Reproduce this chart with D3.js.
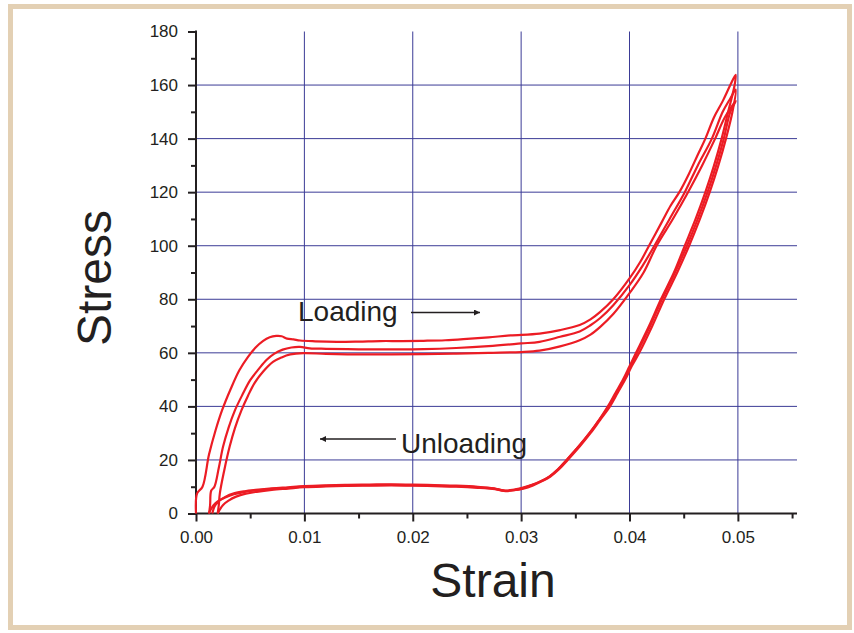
<!DOCTYPE html>
<html>
<head>
<meta charset="utf-8">
<script src="https://cdn.jsdelivr.net/npm/d3@7"></script>
<style>
  html, body { margin: 0; padding: 0; background: #fff; }
  svg { display: block; }
  text { font-family: "Liberation Sans", Arial, Helvetica, sans-serif; fill: #231f20; }
</style>
</head>
<body>
<svg id="chart" width="854" height="633"></svg>
<script>
// ---------------- DATA ----------------
const xTicks = [0, 0.01, 0.02, 0.03, 0.04, 0.05];
const xTickLabels = ["0.00", "0.01", "0.02", "0.03", "0.04", "0.05"];
const yTicks = [0, 20, 40, 60, 80, 100, 120, 140, 160, 180];
const yTickLabels = ["0", "20", "40", "60", "80", "100", "120", "140", "160", "180"];
const xTitle = "Strain";
const yTitle = "Stress";

// Cycle 1
const load1Strain = [0, 0.0001, 0.0006, 0.0012, 0.0018, 0.0024, 0.0032, 0.004, 0.0048, 0.0055, 0.0062, 0.0068, 0.0074, 0.0079, 0.0084, 0.009, 0.0096, 0.011, 0.013, 0.015, 0.017, 0.019, 0.021, 0.023, 0.025, 0.027, 0.029, 0.0317, 0.0336, 0.0354, 0.0364, 0.0373, 0.0385, 0.04, 0.041, 0.0418, 0.043, 0.0438, 0.0446, 0.0455, 0.0463, 0.047, 0.0478, 0.0486, 0.0493, 0.0498];
const load1Stress = [0, 7.5, 10, 22, 31, 38.5, 46.5, 53.5, 58.5, 62, 64.5, 65.8, 66.3, 66.2, 65.3, 65, 64.6, 64.3, 64.1, 64.2, 64.4, 64.4, 64.5, 64.7, 65.2, 65.8, 66.5, 67.2, 68.5, 70.4, 72.5, 75.3, 80, 87.8, 94, 100, 109, 115, 120, 127, 134, 140, 148, 154, 160, 163.8];
const unload1Strain = [0.0498, 0.0497, 0.0491, 0.0485, 0.0478, 0.047, 0.0461, 0.0451, 0.0441, 0.0429, 0.0418, 0.0406, 0.04, 0.0394, 0.0387, 0.038, 0.0372, 0.0363, 0.0353, 0.0342, 0.0334, 0.0326, 0.0318, 0.031, 0.0301, 0.0292, 0.0284, 0.0275, 0.026, 0.024, 0.022, 0.02, 0.018, 0.016, 0.014, 0.012, 0.01, 0.0085, 0.007, 0.0055, 0.0045, 0.0035, 0.0027, 0.002, 0.0016, 0.0013, 0.0012];
const unload1Stress = [163.8, 160, 150, 140, 130, 120, 110, 100, 90, 80, 70, 60, 55, 50, 45, 40, 35, 30, 25, 20, 16.5, 13.8, 12, 10.6, 9.4, 8.6, 8.4, 9.3, 9.8, 10.2, 10.4, 10.6, 10.7, 10.6, 10.5, 10.3, 10, 9.6, 9.2, 8.6, 8.1, 7.2, 6, 4.5, 3, 1, 0];

// Cycle 2
const load2Strain = [0.0012, 0.0013, 0.0014, 0.0017, 0.0021, 0.0025, 0.003, 0.0036, 0.0043, 0.005, 0.0058, 0.0065, 0.0072, 0.008, 0.0088, 0.0096, 0.0105, 0.012, 0.015, 0.018, 0.021, 0.024, 0.027, 0.03, 0.0317, 0.0336, 0.0354, 0.0364, 0.0373, 0.0385, 0.04, 0.0412, 0.0423, 0.0437, 0.0451, 0.0463, 0.0476, 0.0486, 0.0493, 0.0498];
const load2Stress = [0, 3, 8.5, 10, 17, 25, 32, 38.6, 44.5, 49.8, 54, 57.3, 59.6, 61.2, 62, 62.2, 61.7, 61.5, 61.3, 61.3, 61.4, 61.8, 62.5, 63.5, 64.1, 66, 68, 70.3, 73, 77.8, 85.3, 92.5, 100, 110, 120, 130, 140, 150, 155, 158.3];
const unload2Strain = [0.0498, 0.0495, 0.0489, 0.0482, 0.0474, 0.0465, 0.0455, 0.0444, 0.0432, 0.0421, 0.0409, 0.0402, 0.0396, 0.0389, 0.0382, 0.0373, 0.0364, 0.0354, 0.0343, 0.0335, 0.0327, 0.0319, 0.0311, 0.0302, 0.0293, 0.0285, 0.0276, 0.026, 0.024, 0.022, 0.02, 0.018, 0.016, 0.014, 0.012, 0.01, 0.0085, 0.007, 0.0056, 0.0046, 0.0037, 0.003, 0.0025, 0.0022, 0.002];
const unload2Stress = [158.3, 150, 140, 130, 120, 110, 100, 90, 80, 70, 60, 55, 50, 45, 40, 35, 30, 25, 20, 16.5, 13.8, 12, 10.5, 9.3, 8.7, 8.5, 9.1, 9.6, 10, 10.2, 10.4, 10.5, 10.4, 10.3, 10.1, 9.8, 9.3, 8.8, 8.1, 7.4, 6.3, 4.8, 3.2, 1.5, 0];

// Cycle 3
const load3Strain = [0.002, 0.0021, 0.0022, 0.0026, 0.0031, 0.0036, 0.0042, 0.0048, 0.0054, 0.0062, 0.0071, 0.0079, 0.0087, 0.0099, 0.012, 0.015, 0.018, 0.021, 0.024, 0.027, 0.03, 0.0317, 0.0336, 0.0354, 0.0364, 0.0373, 0.0385, 0.04, 0.0413, 0.0425, 0.044, 0.0454, 0.0467, 0.0479, 0.0488, 0.0498];
const load3Stress = [0, 3, 7.5, 16, 24.9, 32, 38.6, 44, 48.7, 53, 56.6, 58.3, 59.4, 59.9, 59.6, 59.4, 59.4, 59.5, 59.7, 60, 60.3, 60.8, 62.4, 64.7, 66.8, 69.7, 74.5, 82.3, 90, 100, 110, 120, 130, 140, 148, 154];
const unload3Strain = [0.0498, 0.0493, 0.0487, 0.048, 0.0472, 0.0463, 0.0453, 0.0442, 0.043, 0.0419, 0.0407, 0.0401, 0.0395, 0.0388, 0.0381, 0.0372, 0.0363, 0.0353, 0.0342, 0.0334, 0.0326, 0.0318, 0.031, 0.0301, 0.0292, 0.0284, 0.0275, 0.026, 0.024, 0.022, 0.02, 0.018, 0.016, 0.014, 0.012, 0.01, 0.0085, 0.007, 0.0055, 0.0045, 0.0035, 0.0027, 0.0021, 0.0017, 0.0015];
const unload3Stress = [154, 150, 140, 130, 120, 110, 100, 90, 80, 70, 60, 55, 50, 45, 40, 35, 30, 25, 20, 16.5, 13.8, 12, 10.7, 9.6, 8.8, 8.6, 9.4, 10, 10.4, 10.6, 10.8, 10.9, 10.8, 10.7, 10.5, 10.2, 9.8, 9.4, 8.8, 8.3, 7.5, 6.2, 4.6, 2.5, 0];

const annotations = ["Loading", "Unloading"];

// ---------------- CHART ----------------
const svg = d3.select("#chart");

// frame
svg.append("rect")
  .attr("x", 10.5).attr("y", 6.5)
  .attr("width", 839).attr("height", 621)
  .attr("fill", "#fff")
  .attr("stroke", "#e3d0b4")
  .attr("stroke-width", 5);

const x = d3.scaleLinear().domain([0, 0.0555]).range([196, 797.5]);
const y = d3.scaleLinear().domain([0, 180]).range([513.5, 31.5]);
const x0 = x(0), y0 = y(0);
const xEnd = 797;

const gridColor = "#3b3b96";

// grid
const g = svg.append("g");
g.selectAll("line.vgrid").data(xTicks.filter(d => d > 0)).enter()
  .append("line")
  .attr("x1", d => x(d)).attr("x2", d => x(d))
  .attr("y1", y(180)).attr("y2", y0)
  .attr("stroke", gridColor).attr("stroke-width", 1);
g.selectAll("line.hgrid").data(yTicks.filter(d => d > 0 && d < 180)).enter()
  .append("line")
  .attr("x1", x0).attr("x2", xEnd)
  .attr("y1", d => y(d)).attr("y2", d => y(d))
  .attr("stroke", gridColor).attr("stroke-width", 1);

// axes via d3 axis generators
const xAxis = d3.axisBottom(x).tickValues(xTicks).tickFormat((d, i) => xTickLabels[i]).tickSize(8).tickPadding(9);
const xMinor = d3.axisBottom(x).tickValues(xTicks.map(d => d + 0.005)).tickFormat("").tickSize(5);
const yAxis = d3.axisLeft(y).tickValues(yTicks).tickFormat((d, i) => yTickLabels[i]).tickSize(8).tickPadding(10);
const yMinor = d3.axisLeft(y).tickValues(yTicks.slice(0, -1).map(d => d + 10)).tickFormat("").tickSize(5);

function styleAxis(sel) {
  sel.select(".domain").remove();
  sel.selectAll(".tick line").attr("stroke", "#231f20").attr("stroke-width", 2);
  sel.selectAll(".tick text")
    .attr("fill", "#231f20")
    .style("font-family", "'Liberation Sans', Arial, sans-serif")
    .style("font-size", "17px");
}

svg.append("g").attr("transform", `translate(0,${y0})`).call(xAxis).call(styleAxis);
svg.append("g").attr("transform", `translate(0,${y0})`).call(xMinor).call(styleAxis);
svg.append("g").attr("transform", `translate(${x0},0)`).call(yAxis).call(styleAxis);
svg.append("g").attr("transform", `translate(${x0},0)`).call(yMinor).call(styleAxis);

// axis lines
svg.append("line").attr("x1", x0 - 1).attr("x2", xEnd).attr("y1", y0).attr("y2", y0)
  .attr("stroke", "#231f20").attr("stroke-width", 2);
svg.append("line").attr("x1", x0).attr("x2", x0).attr("y1", y(180) - 1).attr("y2", y0 + 1)
  .attr("stroke", "#231f20").attr("stroke-width", 2);

// curves
const lineGen = d3.line()
  .x(d => x(d[0])).y(d => y(d[1]))
  .curve(d3.curveCatmullRom.alpha(0.5));

function zipPts(sx, sy) { return sx.map((v, i) => [v, sy[i]]); }
const cycles = [
  zipPts(load1Strain, load1Stress).concat(zipPts(unload1Strain, unload1Stress).slice(1)),
  zipPts(load2Strain, load2Stress).concat(zipPts(unload2Strain, unload2Stress).slice(1)),
  zipPts(load3Strain, load3Stress).concat(zipPts(unload3Strain, unload3Stress).slice(1))
];

svg.append("g").selectAll("path").data(cycles).enter()
  .append("path")
  .attr("d", lineGen)
  .attr("fill", "none")
  .attr("stroke", "#ec1c24")
  .attr("stroke-width", 2.2)
  .attr("stroke-linejoin", "round");

// axis titles
svg.append("text")
  .attr("x", 493).attr("y", 597)
  .attr("text-anchor", "middle")
  .style("font-size", "48px")
  .text(xTitle);
svg.append("text")
  .attr("transform", "translate(111,278) rotate(-90)")
  .attr("text-anchor", "middle")
  .style("font-size", "48px")
  .text(yTitle);

// annotations
svg.append("defs").append("marker")
  .attr("id", "ah").attr("viewBox", "0 0 10 10")
  .attr("refX", 10).attr("refY", 5)
  .attr("markerWidth", 9).attr("markerHeight", 6)
  .attr("markerUnits", "userSpaceOnUse")
  .attr("orient", "auto")
  .append("path").attr("d", "M0,0 L10,5 L0,10 Z").attr("fill", "#231f20");

svg.append("text").attr("x", 298).attr("y", 321).style("font-size", "28px").text(annotations[0]);
svg.append("line").attr("x1", 411).attr("x2", 480).attr("y1", 312.5).attr("y2", 312.5)
  .attr("stroke", "#231f20").attr("stroke-width", 1.6).attr("marker-end", "url(#ah)");

svg.append("text").attr("x", 401).attr("y", 453).style("font-size", "28px").text(annotations[1]);
svg.append("line").attr("x1", 396).attr("x2", 320).attr("y1", 439).attr("y2", 439)
  .attr("stroke", "#231f20").attr("stroke-width", 1.6).attr("marker-end", "url(#ah)");
</script>
</body>
</html>
